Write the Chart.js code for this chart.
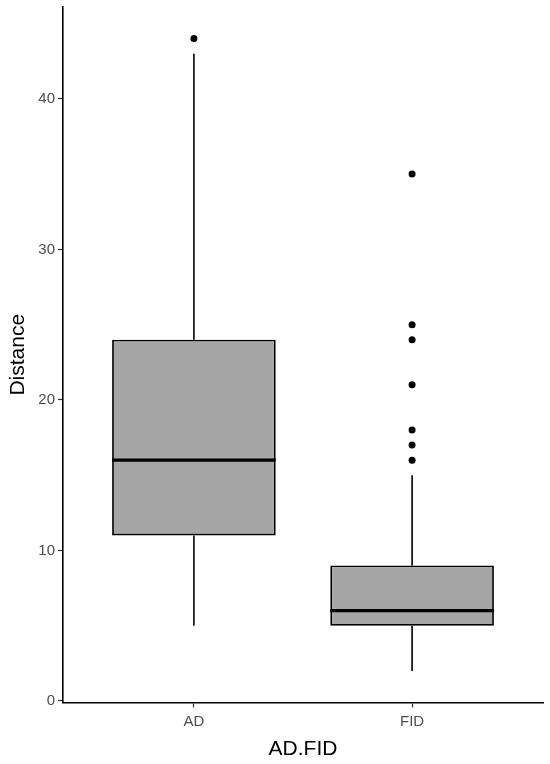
<!DOCTYPE html>
<html>
<head>
<meta charset="utf-8">
<script src="https://cdn.jsdelivr.net/npm/chart.js@4/dist/chart.umd.min.js"></script>
<style>
  html, body { margin: 0; padding: 0; background: #fff; }
  #wrap { width: 550px; height: 764px; }
</style>
</head>
<body>
<div id="wrap"><canvas id="box"></canvas></div>
<script>
// groups and their box statistics
var groups = ['AD', 'FID'];
var groupPos = [1, 2];
var lowWhisker = [5, 2];
var q1 = [11, 5];
var median = [16, 6];
var q3 = [24, 9];
var highWhisker = [43, 15];
var outliersAD = [44];
var outliersFID = [16, 17, 18, 21, 24, 25, 35];
var yTicks = [0, 10, 20, 30, 40];

var BOX_WIDTH = 0.75;
var FONT = '"Liberation Sans", Arial, sans-serif';

var boxData = groupPos.map(function(p, i) { return {x: p, y: [q1[i], q3[i]]}; });

var whiskerData = [];
groupPos.forEach(function(p, i) {
    whiskerData.push({x: p, y: lowWhisker[i]}, {x: p, y: q1[i]}, {x: p, y: null},
                     {x: p, y: q3[i]}, {x: p, y: highWhisker[i]}, {x: p, y: null});
});

var medianData = [];
groupPos.forEach(function(p, i) {
    medianData.push({x: p - BOX_WIDTH / 2, y: median[i]}, {x: p + BOX_WIDTH / 2, y: median[i]}, {x: p, y: null});
});

var outlierData = outliersAD.map(function(v) { return {x: groupPos[0], y: v}; })
    .concat(outliersFID.map(function(v) { return {x: groupPos[1], y: v}; }));

var chart = new Chart(document.getElementById('box'), {
    type: 'bar',
    data: {
        datasets: [
            {
                type: 'line', label: 'median', data: medianData, order: 0,
                borderColor: '#000', borderWidth: 3.2, pointRadius: 0, spanGaps: false
            },
            {
                type: 'scatter', label: 'outliers', data: outlierData, order: 1,
                backgroundColor: '#000', borderColor: '#000', pointRadius: 3.5, borderWidth: 0
            },
            {
                type: 'bar', label: 'box', data: boxData, order: 2,
                backgroundColor: '#A6A6A6', borderColor: '#000', borderWidth: 1.8, borderSkipped: false,
                barPercentage: BOX_WIDTH, categoryPercentage: 1
            },
            {
                type: 'line', label: 'whisker', data: whiskerData, order: 3,
                borderColor: '#000', borderWidth: 1.6, pointRadius: 0, spanGaps: false
            }
        ]
    },
    options: {
        responsive: true,
        maintainAspectRatio: false,
        animation: false,
        layout: { padding: { top: 7, right: 7, left: 0, bottom: 0 } },
        plugins: { legend: { display: false }, tooltip: { enabled: false } },
        scales: {
            x: {
                type: 'linear', min: 0.4, max: 2.6, offset: false,
                afterBuildTicks: function(s) { s.ticks = groupPos.map(function(v) { return {value: v}; }); },
                afterFit: function(s) { s.height = 61.5; s.paddingLeft = 0; s.paddingRight = 0; },
                ticks: {
                    callback: function(v) { return groups[groupPos.indexOf(v)]; },
                    color: '#4D4D4D', font: { family: FONT, size: 15 }, padding: 5, maxRotation: 0
                },
                grid: { drawOnChartArea: false, offset: false, color: '#333', tickLength: 5, tickWidth: 1.2 },
                border: { display: true, color: '#000', width: 1.6 },
                title: { display: true, text: 'AD.FID', color: '#000', font: { family: FONT, size: 21 }, padding: { top: 4, bottom: 2 } }
            },
            y: {
                min: -0.1, max: 46.1,
                afterBuildTicks: function(s) { s.ticks = yTicks.map(function(v) { return {value: v}; }); },
                afterFit: function(s) { s.width = 63; s.paddingTop = 0; s.paddingBottom = 0; },
                ticks: { color: '#4D4D4D', font: { family: FONT, size: 15 }, padding: 3 },
                grid: { drawOnChartArea: false, color: '#333', tickLength: 5, tickWidth: 1.2 },
                border: { display: true, color: '#000', width: 1.6 },
                title: { display: true, text: 'Distance', color: '#000', font: { family: FONT, size: 21 }, padding: { top: 6, bottom: 4 } }
            }
        }
    }
});
</script>
</body>
</html>
